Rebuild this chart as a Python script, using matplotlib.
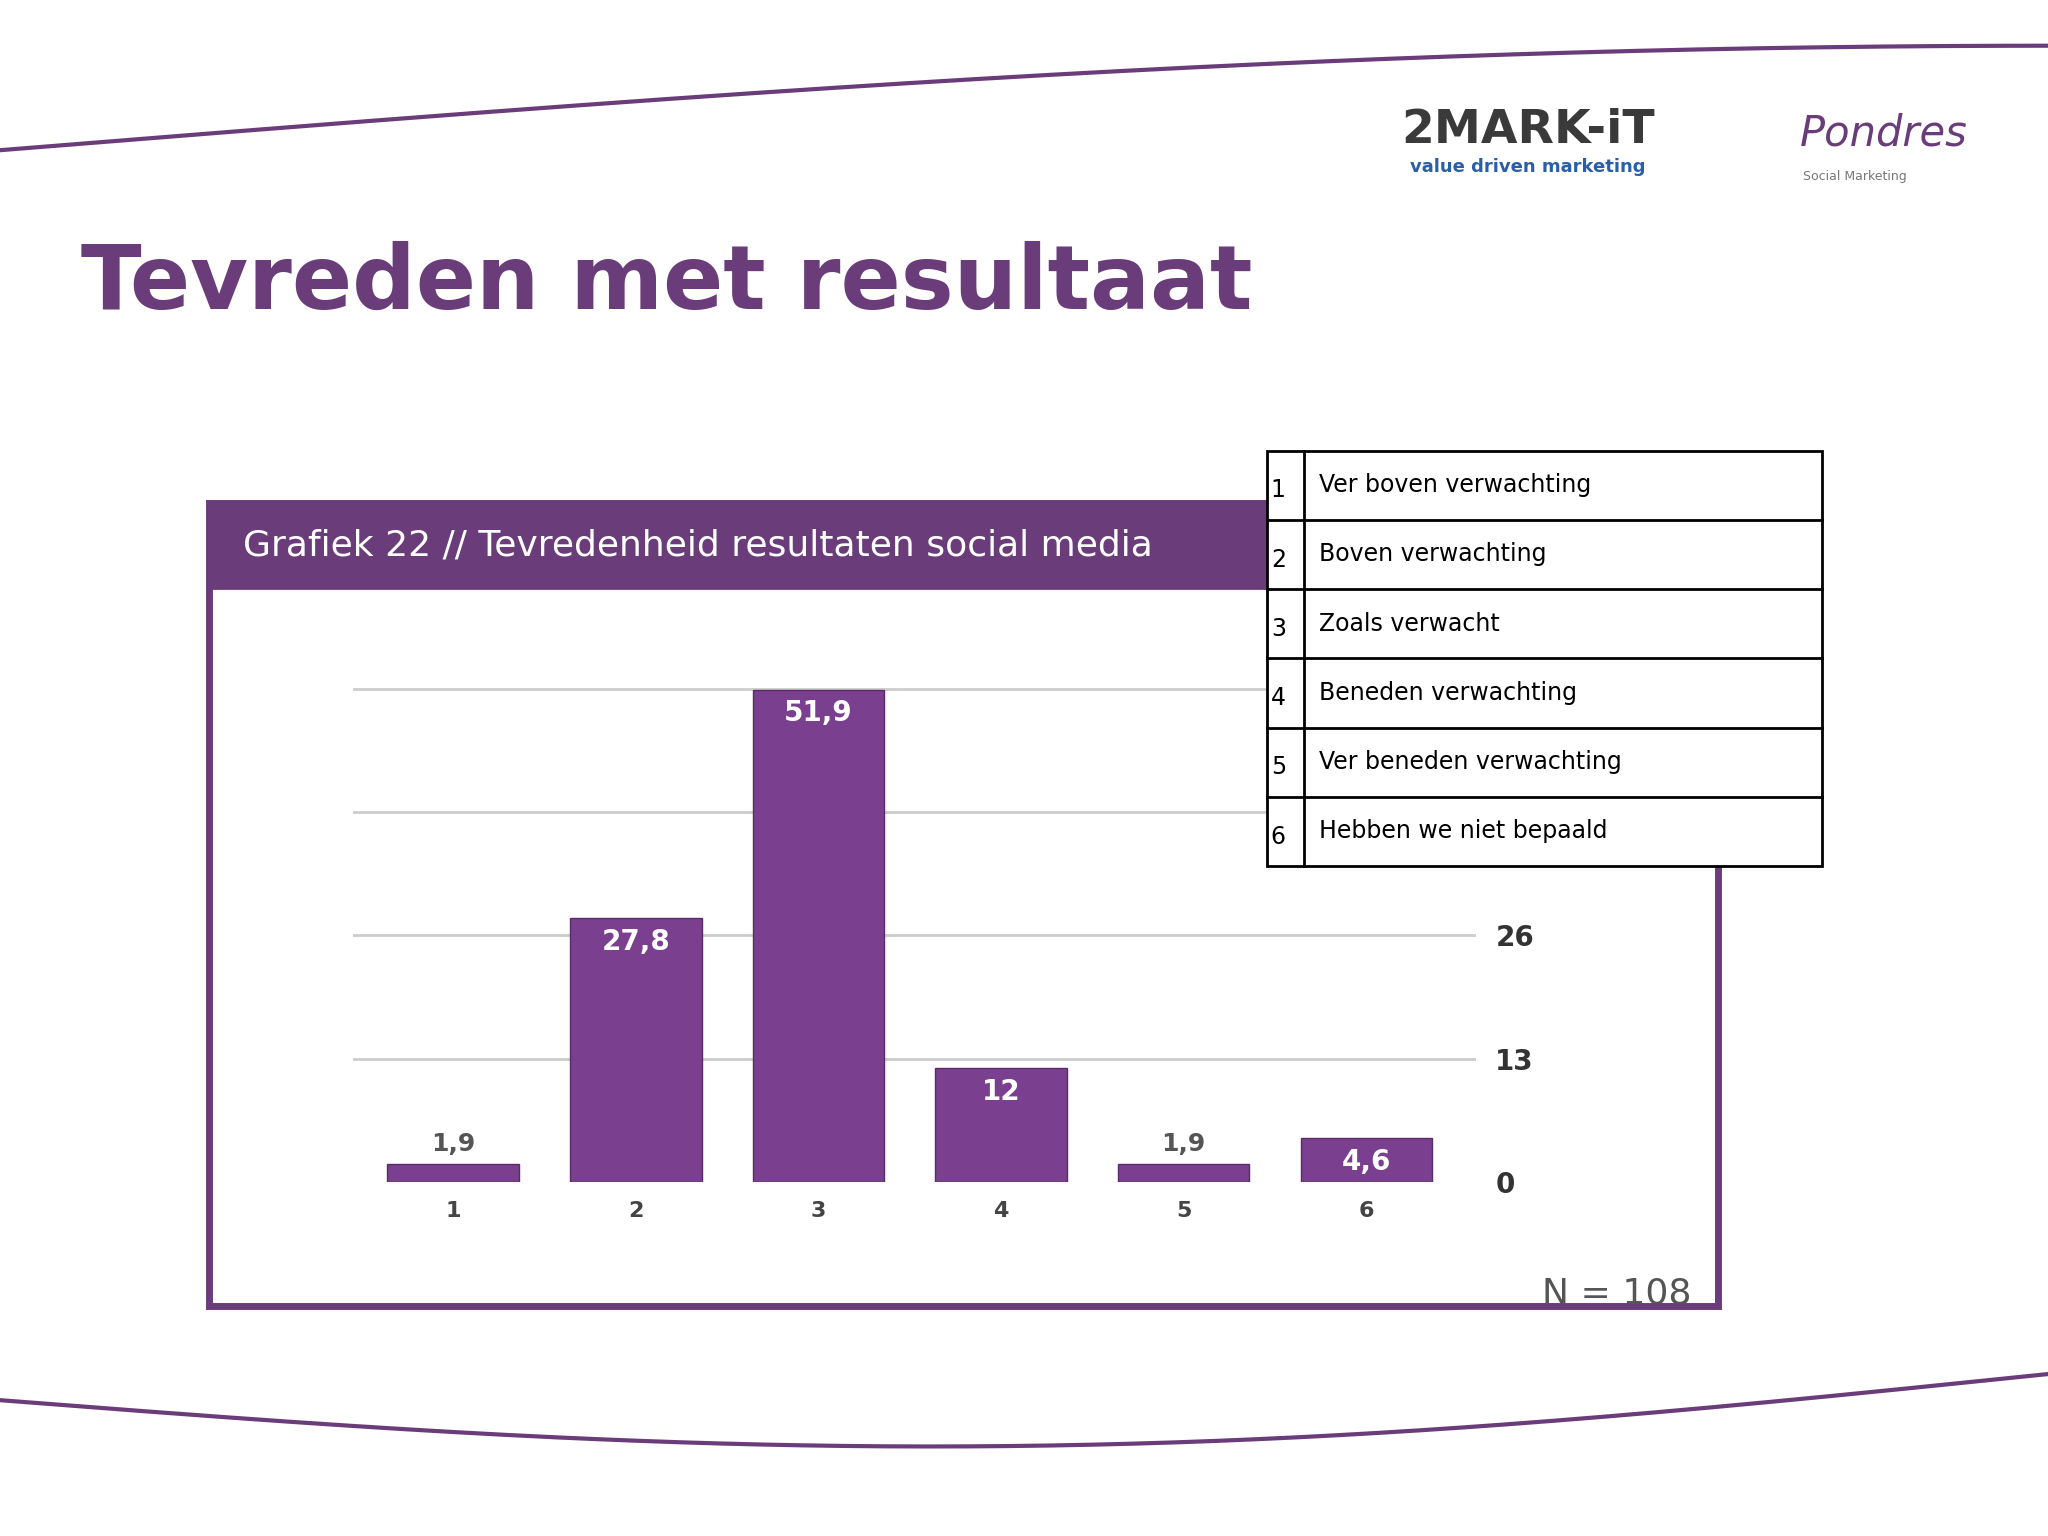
import matplotlib.pyplot as plt
import numpy as np
from matplotlib.patches import Rectangle

# data
categories = ['1', '2', '3', '4', '5', '6']
values = [1.9, 27.8, 51.9, 12, 1.9, 4.6]
value_labels = ['1,9', '27,8', '51,9', '12', '1,9', '4,6']
legend_rows = ['Ver boven verwachting', 'Boven verwachting', 'Zoals verwacht',
               'Beneden verwachting', 'Ver beneden verwachting', 'Hebben we niet bepaald']
yticks = [0, 13, 26]

purple = '#6a3d7a'
bar_col = '#7a3f8e'
W, H = 1568, 1176

fig = plt.figure(figsize=(20.48, 15.36), dpi=100)
bg = fig.add_axes([0, 0, 1, 1])
bg.set_xlim(0, W)
bg.set_ylim(H, 0)
bg.axis('off')

# curved decorative lines
xs = np.linspace(0, W, 200)
bg.plot(xs, 115 - 80 * np.sin(xs / W * np.pi / 2), color=purple, lw=3)
bg.plot(xs, 1072 + 45 * np.sin(xs / W * np.pi) - 20 * xs / W, color=purple, lw=3)

# logos as text
bg.text(1170, 100, '2MARK-iT', fontsize=34, fontweight='bold', color='#3a3a3a', ha='center', va='center')
bg.text(1170, 128, 'value driven marketing', fontsize=13, fontweight='bold', color='#2a5fa8', ha='center', va='center')
bg.text(1442, 102, 'Pondres', fontsize=30, color=purple, ha='center', va='center', style='italic')
bg.text(1420, 135, 'Social Marketing', fontsize=9, color='#777777', ha='center', va='center')

# title
bg.text(62, 218, 'Tevreden met resultaat', fontsize=64, fontweight='bold', color=purple, va='center')

# chart panel
bg.add_patch(Rectangle((160, 385), 1155, 615, facecolor='white', edgecolor=purple, lw=5, zorder=1))
bg.add_patch(Rectangle((160, 385), 1155, 65, facecolor=purple, edgecolor=purple, lw=2, zorder=2))
bg.text(186, 418, 'Grafiek 22 // Tevredenheid resultaten social media', fontsize=26,
        color='white', va='center', zorder=3)
bg.text(1295, 990, 'N = 108', fontsize=26, color='#555555', ha='right', va='center', zorder=3)

# bar chart
ax = fig.add_axes([270 / W, 1 - 905 / H, (1130 - 270) / W, (905 - 520) / H])
ax.patch.set_alpha(0)
x = np.arange(len(categories))
ax.bar(x, values, width=0.72, color=bar_col, edgecolor='#5a2a6a', zorder=3)
for xi, v, lab in zip(x, values, value_labels):
    if v > 4:
        ax.text(xi, v - 1.0, lab, ha='center', va='top', color='white', fontsize=20, fontweight='bold', zorder=4)
    else:
        ax.text(xi, v + 0.8, lab, ha='center', va='bottom', color='#555555', fontsize=18, fontweight='bold', zorder=4)
for g in [13, 26, 39, 52]:
    ax.axhline(g, color='#cccccc', lw=2, zorder=1)
ax.set_xlim(-0.55, 5.6)
ax.set_ylim(0, 53)
ax.set_xticks(x)
ax.set_xticklabels(categories, fontsize=16, fontweight='bold', color='#444444')
ax.yaxis.tick_right()
ax.set_yticks(yticks)
ax.set_yticklabels([str(t) for t in yticks], fontsize=20, fontweight='bold', color='#333333')
ax.tick_params(length=0, pad=14)
for s in ax.spines.values():
    s.set_visible(False)

# legend table overlay, in its own axes on top
tb = fig.add_axes([0, 0, 1, 1])
tb.set_xlim(0, W)
tb.set_ylim(H, 0)
tb.axis('off')
tx0, tx1, ty0, rh = 970, 1395, 345, 53
tb.add_patch(Rectangle((tx0, ty0), tx1 - tx0, rh * 6, facecolor='white', edgecolor='black', lw=2))
for i, lab in enumerate(legend_rows):
    y = ty0 + i * rh
    if i > 0:
        tb.plot([tx0, tx1], [y, y], color='black', lw=2)
    tb.text(tx0 + 3, y + rh / 2 + 4, str(i + 1), fontsize=17, va='center')
    tb.text(tx0 + 40, y + rh / 2, lab, fontsize=17, va='center')
tb.plot([tx0 + 28, tx0 + 28], [ty0, ty0 + rh * 6], color='black', lw=2)

fig.savefig('out.png', dpi=100)
